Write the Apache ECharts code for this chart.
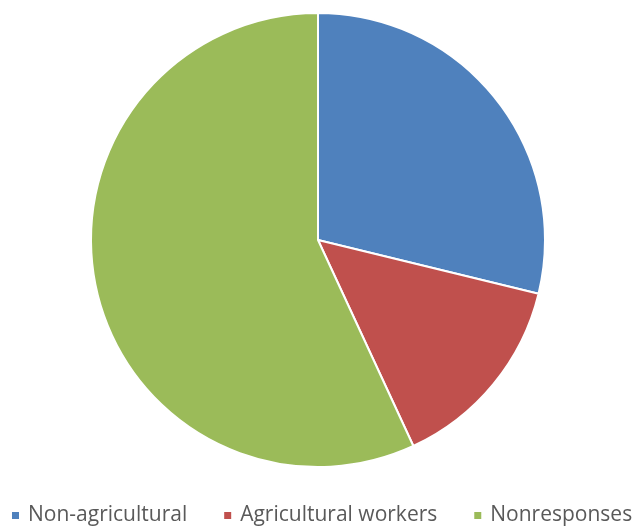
<!DOCTYPE html>
<html>
<head>
<meta charset="utf-8">
<script src="https://cdn.jsdelivr.net/npm/echarts@6/dist/echarts.min.js"></script>
<style>
  html, body { margin: 0; padding: 0; background: #fff; }
  #chart { width: 639px; height: 529px; }
</style>
</head>
<body>
<div id="chart"></div>
<script>
// Occupational breakdown of respondents
const categories = ['Non-agricultural', 'Agricultural workers', 'Nonresponses'];
const shares = [28.8, 14.3, 56.9];
const colors = ['#4F81BD', '#C0504D', '#9BBB59'];

const chart = echarts.init(document.getElementById('chart'), null, { renderer: 'canvas' });

chart.setOption({
  animation: false,
  color: colors,
  legend: {
    data: categories,
    left: 10,
    top: 505,
    width: 700,
    padding: 0,
    icon: 'rect',
    itemWidth: 9,
    itemHeight: 9,
    itemGap: 35,
    textStyle: {
      fontFamily: 'Open Sans',
      fontSize: 21,
      color: '#595959',
      padding: [0, 0, 0, 3]
    }
  },
  series: [{
    type: 'pie',
    center: [318, 240],
    radius: 227,
    startAngle: 90,
    clockwise: true,
    label: { show: false },
    labelLine: { show: false },
    itemStyle: { borderColor: '#fff', borderWidth: 2 },
    emphasis: { disabled: true },
    data: categories.map((name, i) => ({ name, value: shares[i] }))
  }]
});
</script>
</body>
</html>
